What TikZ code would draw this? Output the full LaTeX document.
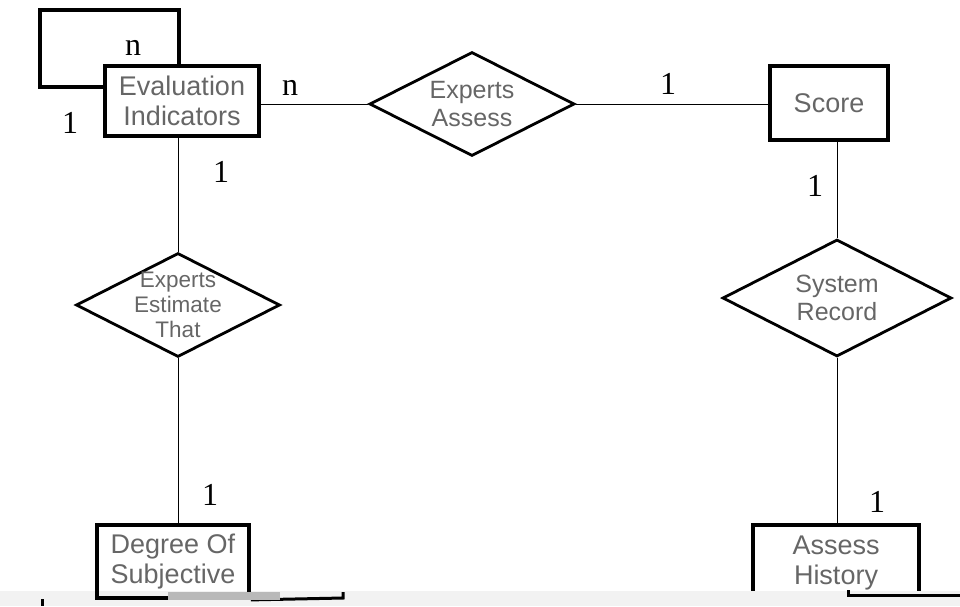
\documentclass[tikz,border=0pt]{standalone}
\usepackage{fontspec}
\setmainfont{Liberation Serif}
\setsansfont{Liberation Sans}
\usetikzlibrary{shapes.geometric}
\definecolor{txtgray}{HTML}{666666}

\begin{document}
\begin{tikzpicture}[x=1pt,y=-1pt,
	entity/.style={draw, line width=3.8pt, inner sep=0pt, align=center, text=txtgray, font=\sffamily\fontsize{27}{30}\selectfont},
	relation/.style={draw, diamond, aspect=2, line width=2.8pt, inner sep=0pt, align=center, text=txtgray, font=\sffamily\fontsize{25}{28}\selectfont},
	card/.style={anchor=base, font=\fontsize{32}{34}\selectfont},
	link/.style={line width=0.9pt}]
			\useasboundingbox (0,0) rectangle (960,606);

			\node[entity, minimum width=154pt, minimum height=70pt] (eval) at (182,101) {Evaluation\\Indicators};
			\node[entity, minimum width=118pt, minimum height=74pt] (score) at (829,103) {Score};
			\node[entity, minimum width=166pt, minimum height=76pt] (hist) at (836,563) {Assess\\History};

			\node[relation, minimum width=205pt, minimum height=104pt] (assess) at (472,104) {Experts\\Assess};
			\node[relation, minimum width=204pt, minimum height=104pt, inner ysep=-16pt, font=\sffamily\fontsize{22.5}{25}\selectfont] (estim) at (178,305) {Experts\\Estimate\\That};
			\node[relation, minimum width=229pt, minimum height=117pt] (record) at (837,298) {System\\Record};

			% self loop
			\coordinate (lpa) at (179,10);
			\coordinate (lpb) at (40,10);
			\coordinate (lpc) at (0,87);
			\draw[line width=3.8pt] (eval.north -| lpa) |- (lpb) |- (eval.west |- lpc);

			\draw[link] (assess.west) -- (assess.west -| eval.east); % eval - assess
			\draw[link] (assess.east) -- (assess.east -| score.west); % assess - score
			\draw[link] (estim.north) -- (estim.north |- eval.south); % eval - estimate
			\draw[link] (record.north) -- (record.north |- score.south); % score - record
			\draw[link] (record.south) -- (record.south |- hist.north); % record - history

			% grey strip at the bottom
			\fill[gray!10] (0,591) rectangle (960,606);

			\node[entity, minimum width=152pt, minimum height=73pt] (deg) at (173,561.5) {Degree Of\\Subjective};
			\draw[link] (estim.south) -- (estim.south |- deg.north); % estimate - degree

			\draw[line width=3pt] (deg.south east) -- (343,598) -- (343,592);
			\draw[line width=3pt] (848,590) -- (848,595) -- (960,595);
			\draw[line width=3pt] (42,599) -- (42,606);
			\fill[gray!55] (168,592) rectangle (280,600);

			\node[card] (c1) at (133,55) {n};
			\node[card] (c2) at (70,133) {1};
			\node[card] (c3) at (290,95) {n};
			\node[card] (c4) at (221,182) {1};
			\node[card] (c5) at (668,94) {1};
			\node[card] (c6) at (815,196) {1};
			\node[card] (c7) at (210,505) {1};
			\node[card] (c8) at (877,512) {1};
		\end{tikzpicture}
\end{document}
